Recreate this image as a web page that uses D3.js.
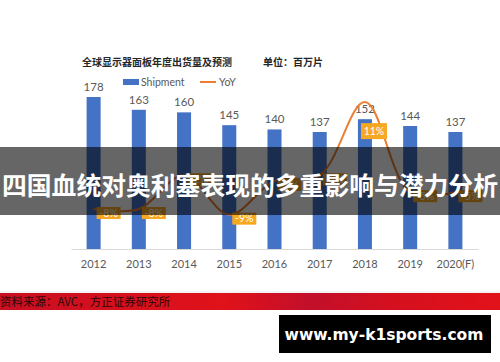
<!DOCTYPE html>
<html>
<head>
<meta charset="utf-8">
<script src="https://cdn.jsdelivr.net/npm/d3@7"></script>
<style>
  html, body { margin: 0; padding: 0; background: #fff; }
  svg { display: block; }
</style>
</head>
<body>
<svg id="chart" width="500" height="362"></svg>
<script>
// chart values
const years = ["2012", "2013", "2014", "2015", "2016", "2017", "2018", "2019", "2020(F)"];
const shipment = [178, 163, 160, 145, 140, 137, 152, 144, 137];
const yoy = [-8, -8, -2, -9, -3, -2, 11, -5, -5];

const chartTitle = "全球显示器面板年度出货量及预测";
const unitLabel = "单位：百万片";
const seriesNames = ["Shipment", "YoY"];
const bannerText = "四国血统对奥利塞表现的多重影响与潜力分析";
const sourceText = "资料来源：AVC，方正证券研究所";
const siteText = "www.my-k1sports.com";

const svg = d3.select("#chart");
const latin = "Lato, 'Open Sans', sans-serif";
const cjk = "'Noto Sans CJK SC', sans-serif";

const x = d3.scaleBand()
  .domain(years)
  .range([71, 478])
  .paddingInner(0.69)
  .paddingOuter(0.345);

const y = d3.scaleLinear().domain([0, 200]).range([249, 78.2]);
// secondary axis for YoY (percent)
const y2 = d3.scaleLinear().domain([-10, 15]).range([220.3, 79.6]);

// titles
svg.append("text")
  .attr("x", 82).attr("y", 66)
  .attr("font-family", cjk).attr("font-weight", 700)
  .attr("font-size", 10).attr("fill", "#262626")
  .text(chartTitle);

svg.append("text")
  .attr("x", 263).attr("y", 66)
  .attr("font-family", cjk).attr("font-weight", 700)
  .attr("font-size", 10).attr("fill", "#262626")
  .text(unitLabel);

// legend
const legend = svg.append("g").attr("font-family", latin).attr("font-size", 10.5).attr("fill", "#595959");
legend.append("rect").attr("x", 123).attr("y", 79).attr("width", 16).attr("height", 6).attr("fill", "#4472C4");
legend.append("text").attr("x", 141).attr("y", 86).text(seriesNames[0]);
legend.append("line").attr("x1", 200).attr("x2", 216).attr("y1", 82).attr("y2", 82)
  .attr("stroke", "#ED7D31").attr("stroke-width", 2);
legend.append("text").attr("x", 219).attr("y", 86).text(seriesNames[1]);

// x axis
const xAxis = svg.append("g")
  .attr("transform", "translate(0,249)")
  .call(d3.axisBottom(x).tickSize(0).tickPadding(11));
xAxis.select(".domain").attr("stroke", "#d9d9d9").attr("stroke-width", 1);
xAxis.selectAll("text")
  .attr("font-family", latin).attr("font-size", 11).attr("fill", "#595959");

// bars
svg.append("g").selectAll("rect")
  .data(shipment)
  .join("rect")
  .attr("x", (d, i) => x(years[i]))
  .attr("y", d => y(d))
  .attr("width", x.bandwidth())
  .attr("height", d => y(0) - y(d))
  .attr("fill", "#4472C4");

svg.append("g").selectAll("text")
  .data(shipment)
  .join("text")
  .attr("x", (d, i) => x(years[i]) + x.bandwidth() / 2)
  .attr("y", d => y(d) - 6)
  .attr("text-anchor", "middle")
  .attr("font-family", latin).attr("font-size", 11.5).attr("fill", "#595959")
  .text(d => d);

// YoY line
const cx = (i) => x(years[i]) + x.bandwidth() / 2;
const line = d3.line()
  .x((d, i) => cx(i))
  .y(d => y2(d))
  .curve(d3.curveCatmullRom.alpha(0.5));

svg.append("path")
  .datum(yoy)
  .attr("d", line)
  .attr("fill", "none")
  .attr("stroke", "#ED7D31")
  .attr("stroke-width", 2);

// YoY data labels
const maxYoy = d3.max(yoy);
const labels = svg.append("g").selectAll("g")
  .data(yoy)
  .join("g")
  .attr("transform", (d, i) => {
    const lx = d === maxYoy ? cx(i) + 9 : cx(i) + 15;
    const ly = d === maxYoy ? y2(d) + 29 : y2(d) + 4;
    return `translate(${lx},${ly})`;
  });
labels.append("rect")
  .attr("x", d => d === maxYoy ? -13 : -12)
  .attr("y", d => d === maxYoy ? -8 : -6)
  .attr("width", d => d === maxYoy ? 26 : 24)
  .attr("height", d => d === maxYoy ? 16 : 12)
  .attr("fill", "#F7A823");
labels.append("text")
  .attr("text-anchor", "middle")
  .attr("dy", "0.36em")
  .attr("font-family", latin).attr("font-size", 10.5).attr("fill", "#fff")
  .text(d => d + "%");

// dark banner overlay
svg.append("rect")
  .attr("x", 0).attr("y", 147).attr("width", 500).attr("height", 68)
  .attr("fill", "#000").attr("fill-opacity", 0.6);
svg.append("text")
  .attr("x", 250).attr("y", 186)
  .attr("dy", "0.36em")
  .attr("text-anchor", "middle")
  .attr("font-family", cjk).attr("font-weight", 700)
  .attr("font-size", 24.8).attr("fill", "#fff")
  .text(bannerText);

// source strip
const defs = svg.append("defs");
const grad = defs.append("linearGradient").attr("id", "redStrip");
[["0%", "#c90f22"], ["30%", "#d8101c"], ["45%", "#e0121a"], ["62%", "#c20f2a"], ["80%", "#d6101e"], ["100%", "#e2121a"]]
  .forEach(([o, c]) => grad.append("stop").attr("offset", o).attr("stop-color", c));
svg.append("line")
  .attr("x1", 0).attr("x2", 500).attr("y1", 292).attr("y2", 292)
  .attr("stroke", "#e6e6e6").attr("stroke-width", 1);
svg.append("rect")
  .attr("x", 0).attr("y", 293).attr("width", 500).attr("height", 17)
  .attr("fill", "url(#redStrip)");
svg.append("text")
  .attr("x", 0).attr("y", 301.5)
  .attr("dy", "0.36em")
  .attr("font-family", cjk).attr("font-size", 11.5).attr("fill", "#2a0808")
  .text(sourceText);

// site box
svg.append("rect")
  .attr("x", 279).attr("y", 315).attr("width", 212).attr("height", 38)
  .attr("fill", "#000");
svg.append("text")
  .attr("x", 384).attr("y", 334)
  .attr("dy", "0.36em")
  .attr("text-anchor", "middle")
  .attr("font-family", "'DejaVu Sans', sans-serif").attr("font-weight", 700)
  .attr("font-size", 15.5).attr("fill", "#fff")
  .text(siteText);
</script>
</body>
</html>
